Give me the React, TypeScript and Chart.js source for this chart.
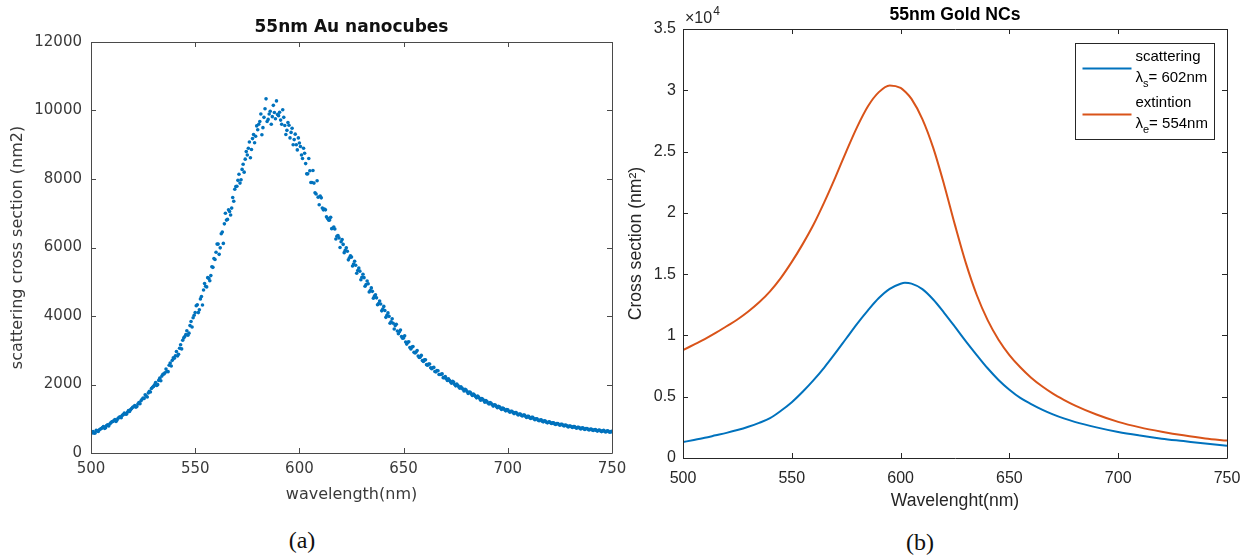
import React, { useEffect, useRef } from "react";
import { Chart, registerables } from "chart.js";

Chart.register(...registerables);

// ---------- Panel (a): measured scattering cross section (nm2) ----------
// samples on whole nanometres (500, 501, ... 750)
const scatterStartNm = 500;
const scatterStepNm = 1;
const scatteringMeasured = [
  560, 625, 585, 650, 680, 715, 770, 735, 825, 845,
  910, 950, 920, 1015, 1060, 1100, 1165, 1130, 1240, 1265,
  1335, 1385, 1355, 1475, 1525, 1605, 1700, 1635, 1805, 1885,
  1945, 2060, 1995, 2185, 2245, 2305, 2450, 2375, 2625, 2705,
  2770, 2960, 2880, 3160, 3290, 3400, 3570, 3500, 3840, 3950,
  4100, 4330, 4180, 4570, 4760, 4870, 5120, 5030, 5440, 5680,
  5860, 6100, 5990, 6450, 6690, 6800, 7100, 6950, 7460, 7700,
  7790, 8140, 7980, 8430, 8580, 8700, 9080, 8860, 9300, 9250,
  9440, 9680, 9290, 9800, 10340, 9740, 9980, 9820, 9940, 10280,
  9850, 9720, 10020, 9560, 9420, 9570, 9360, 9000, 9310, 8850,
  9050, 8700, 8900, 8450, 8150, 8240, 7900, 7880, 7560, 7470,
  7500, 7150, 7120, 6900, 6800, 6880, 6560, 6540, 6330, 6280,
  6170, 6090, 5920, 5890, 5700, 5720, 5520, 5480, 5330, 5310,
  5130, 5120, 4920, 4940, 4740, 4720, 4580, 4530, 4360, 4350,
  4200, 4160, 4020, 3990, 3830, 3790, 3720, 3560, 3540, 3400,
  3360, 3240, 3230, 3080, 3090, 2940, 2950, 2830, 2800, 2700,
  2720, 2580, 2600, 2490, 2490, 2380, 2410, 2290, 2300, 2200,
  2230, 2120, 2120, 2040, 2070, 1960, 1980, 1890, 1900, 1810,
  1840, 1740, 1770, 1680, 1690, 1610, 1630, 1540, 1570, 1480,
  1500, 1430, 1450, 1370, 1400, 1320, 1350, 1270, 1300, 1230,
  1260, 1190, 1220, 1150, 1180, 1110, 1140, 1080, 1110, 1040,
  1070, 1010, 1040, 970, 1000, 940, 970, 910, 935, 880,
  910, 860, 885, 830, 860, 810, 840, 790, 810, 760,
  790, 745, 775, 725, 750, 700, 735, 685, 715, 670,
  700, 655, 685, 640, 670, 625, 660, 615, 650, 605,
  630,
];
// samples on half nanometres (500.5, 501.5, ... 749.5)
const scatteringMeasuredHalf = [
  600, 575, 660, 630, 700, 745, 720, 800, 790, 880,
  920, 975, 960, 1040, 1030, 1120, 1140, 1190, 1210, 1300,
  1350, 1340, 1430, 1440, 1570, 1590, 1660, 1750, 1780, 1920,
  1990, 1970, 2120, 2110, 2300, 2340, 2380, 2560, 2540, 2780,
  2840, 2830, 3060, 3040, 3360, 3460, 3440, 3720, 3680, 4020,
  4300, 4100, 4500, 4320, 4950, 4850, 5100, 5180, 5420, 5650,
  6100, 5800, 6400, 6120, 7000, 6820, 7050, 7150, 7350, 7780,
  7960, 7880, 8280, 8200, 8800, 8900, 8620, 9180, 9060, 9550,
  9600, 9900, 9500, 10050, 9680, 9900, 9600, 10150, 9760, 9880,
  9950, 9600, 9800, 9300, 9650, 9200, 9480, 9150, 9000, 9200,
  8950, 8600, 8750, 8150, 8600, 7900, 8250, 7600, 7950, 7250,
  7450, 7100, 7100, 6850, 6800, 6550, 6600, 6250, 6350, 6000,
  6230, 5850, 5990, 5640, 5760, 5460, 5600, 5250, 5400, 5060,
  5220, 4870, 5020, 4700, 4820, 4520, 4620, 4330, 4440, 4150,
  4280, 3960, 4090, 3790, 3920, 3620, 3760, 3480, 3590, 3350,
  3420, 3180, 3250, 3040, 3110, 2920, 2990, 2790, 2850, 2670,
  2720, 2560, 2600, 2460, 2500, 2370, 2400, 2290, 2310, 2200,
  2170, 2170, 2080, 2090, 2000, 2010, 1930, 1930, 1860, 1860,
  1790, 1780, 1720, 1720, 1650, 1660, 1590, 1590, 1530, 1530,
  1460, 1470, 1410, 1410, 1360, 1360, 1310, 1310, 1260, 1270,
  1220, 1220, 1180, 1180, 1140, 1140, 1100, 1110, 1070, 1070,
  1030, 1040, 1000, 1000, 960, 965, 930, 940, 900, 905,
  880, 880, 850, 860, 830, 835, 810, 815, 785, 790,
  765, 770, 745, 750, 725, 730, 705, 715, 690, 695,
  675, 680, 660, 665, 645, 650, 630, 640, 620, 625,
];
const xTicksA = [500, 550, 600, 650, 700, 750];
const yTicksA = [0, 2000, 4000, 6000, 8000, 10000, 12000];

// ---------- Panel (b): simulated cross sections (units of 1e4 nm^2) ----------
const simWavelengths = [
  500, 505, 510, 515, 520, 525, 530, 535, 540, 545, 550, 555, 560, 565, 570, 575, 580, 585, 590, 595,
  600, 602, 605, 610, 615, 620, 625, 630, 635, 640, 645, 650, 655, 660, 665, 670, 675, 680, 690, 700,
  710, 720, 730, 740, 750,
];
const simScattering = [
  0.13, 0.147, 0.165, 0.185, 0.205, 0.228, 0.255, 0.287, 0.325, 0.385, 0.455, 0.54, 0.635, 0.74, 0.855, 0.975, 1.095, 1.205, 1.305, 1.38,
  1.422, 1.43, 1.423, 1.378, 1.293, 1.185, 1.07, 0.952, 0.84, 0.732, 0.637, 0.557, 0.49, 0.44, 0.395, 0.356, 0.323, 0.295, 0.25, 0.212,
  0.183, 0.158, 0.138, 0.118, 0.1,
];
const simExtinction = [
  0.88, 0.925, 0.97, 1.02, 1.075, 1.13, 1.195, 1.27, 1.36, 1.47, 1.6, 1.745, 1.905, 2.09, 2.29, 2.5, 2.7, 2.87, 2.985, 3.04,
  3.02, 2.99, 2.93, 2.765, 2.53, 2.23, 1.9, 1.59, 1.33, 1.125, 0.965, 0.84, 0.74, 0.655, 0.585, 0.525, 0.475, 0.43, 0.355, 0.295,
  0.25, 0.215, 0.185, 0.16, 0.142,
];
const xTicksB = [500, 550, 600, 650, 700, 750];
const yTicksB = [0, 0.5, 1, 1.5, 2, 2.5, 3, 3.5];
const legendNames = ["scattering", "extintion"];
const legendSubs = ["s", "e"];
const legendPeaks = ["= 602nm", "= 554nm"];
const exponentBase = "×10";
const exponentPower = "4";

const BLUE = "#0072BD";
const ORANGE = "#D95319";

// MATLAB-like box with inward ticks on all four sides
const framePlugin = {
  id: "matlabFrame",
  afterDatasetsDraw(chart: any, _args: any, opts: any) {
    const { ctx, chartArea, scales } = chart;
    const { left, right, top, bottom } = chartArea;
    const tl = opts.tickLength ?? 5;
    ctx.save();
    ctx.strokeStyle = opts.color || "#262626";
    ctx.lineWidth = 1;
    ctx.beginPath();
    ctx.rect(Math.round(left) + 0.5, Math.round(top) + 0.5, Math.round(right - left), Math.round(bottom - top));
    ctx.stroke();
    ctx.beginPath();
    for (const t of scales.x.ticks) {
      const px = Math.round(scales.x.getPixelForValue(t.value)) + 0.5;
      ctx.moveTo(px, bottom);
      ctx.lineTo(px, bottom - tl);
      ctx.moveTo(px, top);
      ctx.lineTo(px, top + tl);
    }
    for (const t of scales.y.ticks) {
      const py = Math.round(scales.y.getPixelForValue(t.value)) + 0.5;
      ctx.moveTo(left, py);
      ctx.lineTo(left + tl, py);
      ctx.moveTo(right, py);
      ctx.lineTo(right - tl, py);
    }
    ctx.stroke();
    ctx.restore();
  },
};

// Legend box and exponent label for panel (b)
const legendPlugin = {
  id: "matlabLegend",
  afterDraw(chart: any, _args: any, opts: any) {
    if (!opts || !opts.enabled) return;
    const { ctx, chartArea } = chart;
    const w = 139;
    const h = 96;
    const x0 = Math.round(chartArea.right - 13 - w) + 0.5;
    const y0 = Math.round(chartArea.top + 14) + 0.5;
    ctx.save();
    ctx.fillStyle = "#ffffff";
    ctx.fillRect(x0, y0, w, h);
    ctx.strokeStyle = "#262626";
    ctx.lineWidth = 1;
    ctx.strokeRect(x0, y0, w, h);
    const font = "Liberation Sans, Arial, sans-serif";
    chart.data.datasets.forEach((ds: any, i: number) => {
      const dy = i * 46;
      ctx.strokeStyle = ds.borderColor;
      ctx.lineWidth = 2;
      ctx.beginPath();
      ctx.moveTo(x0 + 7, y0 + 25 + dy);
      ctx.lineTo(x0 + 56, y0 + 25 + dy);
      ctx.stroke();
      ctx.fillStyle = "#000000";
      ctx.textBaseline = "middle";
      ctx.textAlign = "left";
      ctx.font = `15px ${font}`;
      ctx.fillText(legendNames[i], x0 + 60, y0 + 13 + dy);
      const ly = y0 + 34 + dy;
      ctx.font = `15px ${font}`;
      ctx.fillText("λ", x0 + 60, ly);
      const lw = ctx.measureText("λ").width;
      ctx.font = `11px ${font}`;
      ctx.fillText(legendSubs[i], x0 + 60 + lw, ly + 6);
      const sw = ctx.measureText(legendSubs[i]).width;
      ctx.font = `15px ${font}`;
      ctx.fillText(legendPeaks[i], x0 + 60 + lw + sw, ly);
    });
    // exponent label above the y axis
    ctx.fillStyle = "#262626";
    ctx.textBaseline = "middle";
    ctx.font = `16px ${font}`;
    ctx.fillText(exponentBase, chartArea.left + 2, chartArea.top - 10);
    const bw = ctx.measureText(exponentBase).width;
    ctx.font = `12px ${font}`;
    ctx.fillText(exponentPower, chartArea.left + 3 + bw, chartArea.top - 17);
    ctx.restore();
  },
};

function fixedTicks(values: number[]) {
  return (scale: any) => {
    scale.ticks = values.map((v) => ({ value: v }));
  };
}

const FONT_A = "DejaVu Sans, sans-serif";
const FONT_B = "Liberation Sans, Arial, sans-serif";
const TEXT_A = "#3a3a3a";
const TEXT_B = "#262626";

function makeConfigA(): any {
  const points = [
    ...scatteringMeasured.map((v, i) => ({ x: scatterStartNm + i * scatterStepNm, y: v })),
    ...scatteringMeasuredHalf.map((v, i) => ({ x: scatterStartNm + scatterStepNm / 2 + i * scatterStepNm, y: v })),
  ];
  return {
    type: "scatter",
    data: {
      datasets: [
        {
          data: points,
          backgroundColor: BLUE,
          borderWidth: 0,
          pointRadius: 1.8,
          pointHoverRadius: 1.8,
        },
      ],
    },
    options: {
      responsive: false,
      animation: false,
      layout: { padding: { left: 0, right: 28, top: 0, bottom: 0 } },
      plugins: {
        legend: { display: false },
        tooltip: { enabled: false },
        title: {
          display: true,
          text: "55nm Au nanocubes",
          fullSize: false,
          color: "#111",
          font: { family: FONT_A, size: 17, weight: "bold", lineHeight: 1.2 },
          padding: { top: 17, bottom: 4.6 },
        },
        matlabFrame: { color: "#4a4a4a", tickLength: 5 },
        matlabLegend: { enabled: false },
      },
      scales: {
        x: {
          type: "linear",
          min: 500,
          max: 750,
          afterBuildTicks: fixedTicks(xTicksA),
          afterFit: (s: any) => {
            s.height = 67;
          },
          grid: { display: false, drawTicks: false },
          border: { display: false },
          ticks: { padding: 7, color: TEXT_A, font: { family: FONT_A, size: 15 }, maxRotation: 0, autoSkip: false },
          title: {
            display: true,
            text: "wavelength(nm)",
            color: TEXT_A,
            font: { family: FONT_A, size: 16, lineHeight: 1.2 },
            padding: { top: 0, bottom: 15.5 },
          },
        },
        y: {
          type: "linear",
          min: 0,
          max: 12000,
          afterBuildTicks: fixedTicks(yTicksA),
          afterFit: (s: any) => {
            s.width = 91;
          },
          grid: { display: false, drawTicks: false },
          border: { display: false },
          ticks: {
            padding: 9,
            color: TEXT_A,
            font: { family: FONT_A, size: 15 },
            callback: (v: any) => String(v),
          },
          title: {
            display: true,
            text: "scattering cross section (nm2)",
            color: TEXT_A,
            font: { family: FONT_A, size: 16, lineHeight: 1.2 },
            padding: { top: 8.4, bottom: 0 },
          },
        },
      },
    },
    plugins: [framePlugin, legendPlugin],
  };
}

function makeConfigB(): any {
  return {
    type: "line",
    data: {
      datasets: [
        {
          label: "scattering",
          data: simWavelengths.map((w, i) => ({ x: w, y: simScattering[i] })),
          borderColor: BLUE,
          backgroundColor: BLUE,
          borderWidth: 2,
          pointRadius: 0,
          cubicInterpolationMode: "monotone",
          fill: false,
        },
        {
          label: "extintion",
          data: simWavelengths.map((w, i) => ({ x: w, y: simExtinction[i] })),
          borderColor: ORANGE,
          backgroundColor: ORANGE,
          borderWidth: 2,
          pointRadius: 0,
          cubicInterpolationMode: "monotone",
          fill: false,
        },
      ],
    },
    options: {
      responsive: false,
      animation: false,
      layout: { padding: { left: 0, right: 26, top: 0, bottom: 0 } },
      plugins: {
        legend: { display: false },
        tooltip: { enabled: false },
        title: {
          display: true,
          text: "55nm Gold NCs",
          fullSize: false,
          color: "#000",
          font: { family: FONT_B, size: 17.6, weight: "bold", lineHeight: 1.2 },
          padding: { top: 5, bottom: 2.9 },
        },
        matlabFrame: { color: "#262626", tickLength: 5 },
        matlabLegend: { enabled: true },
      },
      scales: {
        x: {
          type: "linear",
          min: 500,
          max: 750,
          afterBuildTicks: fixedTicks(xTicksB),
          afterFit: (s: any) => {
            s.height = 62;
          },
          grid: { display: false, drawTicks: false },
          border: { display: false },
          ticks: { padding: 11.4, color: TEXT_B, font: { family: FONT_B, size: 16 }, maxRotation: 0, autoSkip: false },
          title: {
            display: true,
            text: "Wavelenght(nm)",
            color: TEXT_B,
            font: { family: FONT_B, size: 17.6, lineHeight: 1.2 },
            padding: { top: 0, bottom: 8.4 },
          },
        },
        y: {
          type: "linear",
          min: 0,
          max: 3.5,
          afterBuildTicks: fixedTicks(yTicksB),
          afterFit: (s: any) => {
            s.width = 57;
          },
          grid: { display: false, drawTicks: false },
          border: { display: false },
          ticks: {
            padding: 7,
            color: TEXT_B,
            font: { family: FONT_B, size: 16 },
            callback: (v: any) => String(v),
          },
          title: {
            display: true,
            text: "Cross section (nm²)",
            color: TEXT_B,
            font: { family: FONT_B, size: 17.6, lineHeight: 1.2 },
            padding: { top: 0, bottom: 0 },
          },
        },
      },
    },
    plugins: [framePlugin, legendPlugin],
  };
}

function ChartPanel(props: { make: () => any; left: number; width: number; height: number }) {
  const ref = useRef<HTMLCanvasElement>(null);
  useEffect(() => {
    const chart = new Chart(ref.current as HTMLCanvasElement, props.make());
    return () => chart.destroy();
  }, []);
  return (
    <canvas
      ref={ref}
      width={props.width}
      height={props.height}
      style={{ position: "absolute", left: props.left, top: 0, width: props.width, height: props.height }}
    />
  );
}

const captionStyle: React.CSSProperties = {
  position: "absolute",
  fontFamily: "Liberation Serif, Times New Roman, serif",
  fontSize: 24,
  lineHeight: "28px",
  color: "#111",
  transform: "translateX(-50%)",
  whiteSpace: "nowrap",
};

export default function App() {
  return (
    <div style={{ position: "absolute", left: 0, top: 0, width: 1253, height: 558, background: "#fff", overflow: "hidden" }}>
      <ChartPanel make={makeConfigA} left={0} width={640} height={520} />
      <ChartPanel make={makeConfigB} left={626} width={627} height={520} />
      <div style={{ ...captionStyle, left: 302, top: 526 }}>(a)</div>
      <div style={{ ...captionStyle, left: 920, top: 528 }}>(b)</div>
    </div>
  );
}
